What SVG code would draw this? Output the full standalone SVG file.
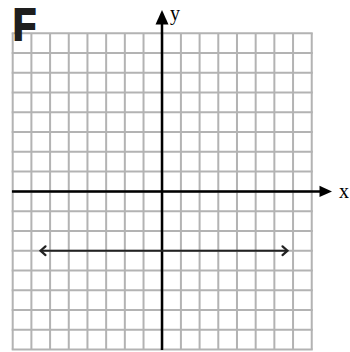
<svg xmlns="http://www.w3.org/2000/svg" width="350" height="352" viewBox="0 0 350 352">
<style>
.grid{stroke:#b3b3b3;stroke-width:2;fill:none}
.axis{stroke:#000;stroke-width:2.5;fill:none}
.lbl{font-family:"Liberation Serif","Times New Roman",serif;font-size:20px;fill:#000}
.line{stroke:#222;stroke-width:2;fill:none}
.chev{stroke:#222;stroke-width:2.2;fill:none;stroke-linecap:round;stroke-linejoin:miter}
</style>
<rect width="350" height="352" fill="#fff"/>
<g id="grid">
<path class="grid" d="M12.7,33.3V349.5M31.39,33.3V349.5M50.08,33.3V349.5M68.77,33.3V349.5M87.46,33.3V349.5M106.15,33.3V349.5M124.84,33.3V349.5M143.53,33.3V349.5M162.22,33.3V349.5M180.91,33.3V349.5M199.6,33.3V349.5M218.29,33.3V349.5M236.98,33.3V349.5M255.67,33.3V349.5M274.36,33.3V349.5M293.05,33.3V349.5M311.74,33.3V349.5"/>
<path class="grid" d="M11.7,33.3H312.74M11.7,53.06H312.74M11.7,72.82H312.74M11.7,92.58H312.74M11.7,112.34H312.74M11.7,132.1H312.74M11.7,151.86H312.74M11.7,171.62H312.74M11.7,191.38H312.74M11.7,211.14H312.74M11.7,230.9H312.74M11.7,250.66H312.74M11.7,270.42H312.74M11.7,290.18H312.74M11.7,309.94H312.74M11.7,329.7H312.74M11.7,349.46H312.74"/>
</g>
<g id="letter">
<text x="13" y="40.5" transform="translate(13,0) scale(0.85,1) translate(-13,0)" font-family="'Liberation Sans',Arial,sans-serif" font-weight="bold" font-size="44.5" fill="#1e1e1e" stroke="#1e1e1e" stroke-width="2">F</text>
</g>
<g id="connectors">
<g id="x-axis">
<path class="axis" d="M12,191.4H321"/>
<path d="M332,191.4L319.5,185.7V197.1Z" fill="#000"/>
</g>
<g id="y-axis">
<path class="axis" d="M162,350V22"/>
<path d="M162,10L155.5,24.5H168.5Z" fill="#000"/>
</g>
<g id="double-arrow">
<path class="line" d="M41,250.7H287"/>
<path class="chev" d="M45.5,246.3L40.5,250.7L45.5,255.1"/>
<path class="chev" d="M282.5,246.3L287.5,250.7L282.5,255.1"/>
</g>
</g>
<g id="labels">
<text class="lbl" x="339" y="197.5">x</text>
<text class="lbl" x="170" y="20">y</text>
</g>
</svg>
